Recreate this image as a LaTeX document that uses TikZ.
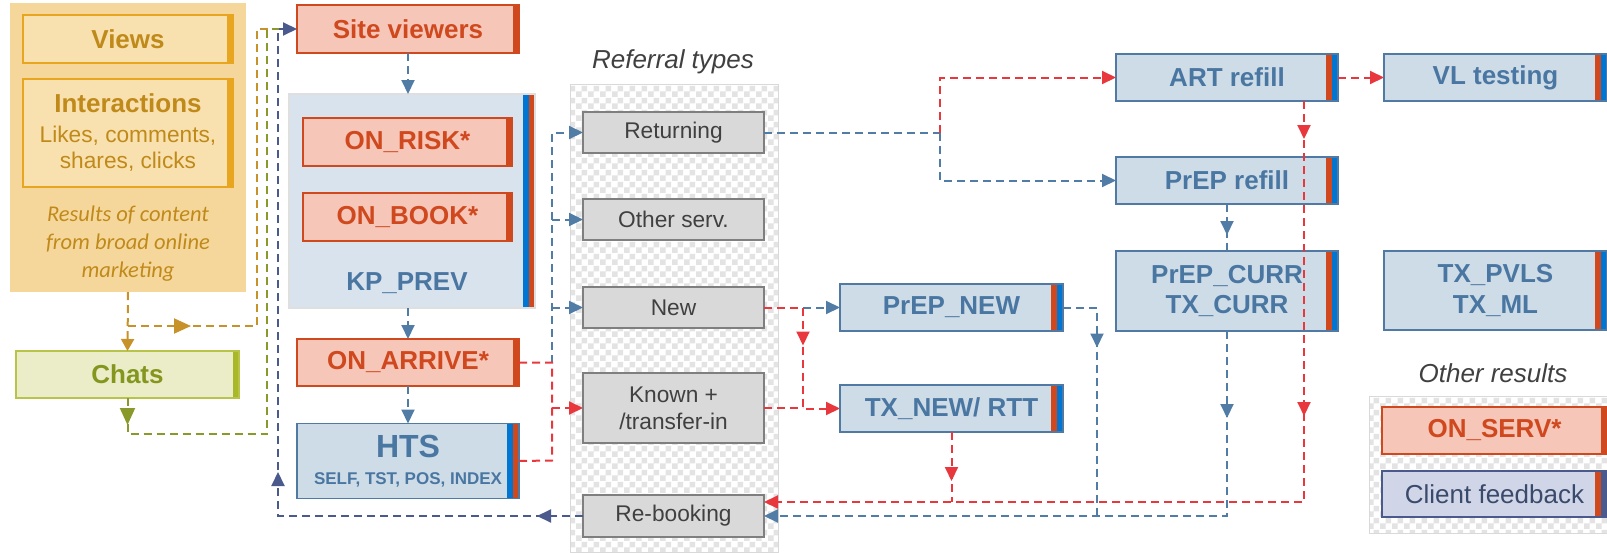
\documentclass[tikz,border=0pt]{standalone}
\usepackage{fontspec}
\setmainfont{Liberation Sans}
\newfontfamily\notefont{Carlito}
\usetikzlibrary{arrows.meta,decorations.markings,patterns,calc}

% two-tone checker fill used behind grouped boxes
\pgfdeclarepatternformonly{checks}{\pgfpointorigin}{\pgfpoint{12pt}{12pt}}{\pgfpoint{12pt}{12pt}}{%
  \pgfpathrectangle{\pgfpointorigin}{\pgfpoint{6pt}{6pt}}%
  \pgfpathrectangle{\pgfpoint{6pt}{6pt}}{\pgfpoint{6pt}{6pt}}%
  \pgfusepath{fill}}

\definecolor{txtblue}{RGB}{74,118,162}
\definecolor{boxblue}{RGB}{206,220,232}
\definecolor{edgeblue}{RGB}{80,122,164}
\definecolor{barblue}{RGB}{0,118,210}
\definecolor{barred}{RGB}{208,72,30}
\definecolor{boxred}{RGB}{246,198,184}
\definecolor{txtred}{RGB}{208,72,30}
\definecolor{kpfill}{RGB}{216,227,238}
\definecolor{grayfill}{RGB}{217,217,217}
\definecolor{grayedge}{RGB}{127,127,127}
\definecolor{graytxt}{RGB}{64,64,64}
\definecolor{mktfill}{RGB}{245,215,155}
\definecolor{mktinner}{RGB}{248,225,175}
\definecolor{mktedge}{RGB}{232,165,32}
\definecolor{mkttxt}{RGB}{192,138,26}
\definecolor{chatfill}{RGB}{234,237,200}
\definecolor{chatedge}{RGB}{184,195,74}
\definecolor{chatbar}{RGB}{168,184,40}
\definecolor{chattxt}{RGB}{132,150,30}
\definecolor{lnred}{RGB}{232,56,61}
\definecolor{lnblue}{RGB}{80,124,166}
\definecolor{lnslate}{RGB}{74,90,140}
\definecolor{lnorange}{RGB}{200,146,42}
\definecolor{lngreen}{RGB}{138,154,42}
\definecolor{fbfill}{RGB}{208,214,232}
\definecolor{fbtxt}{RGB}{58,74,106}

\tikzset{
  basebox/.style={draw, line width=1.5pt, inner sep=0pt, outer sep=0pt, align=center},
  onebar/.style={path picture={\fill[#1] ([xshift=-6pt]path picture bounding box.north east) rectangle (path picture bounding box.south east);}},
  twobars/.style 2 args={path picture={
      \fill[#1] ([xshift=-12pt]path picture bounding box.north east) rectangle ([xshift=-6pt]path picture bounding box.south east);
      \fill[#2] ([xshift=-6pt]path picture bounding box.north east) rectangle (path picture bounding box.south east);}},
  boldfont/.style={font=\bfseries\fontsize{26}{30}\selectfont},
  redbox/.style={basebox, fill=boxred, draw=txtred, text=txtred, boldfont, onebar=barred},
  bluebox/.style={basebox, fill=boxblue, draw=edgeblue, text=txtblue, boldfont, twobars={barred}{barblue}},
  greybox/.style={basebox, fill=grayfill, draw=grayedge, text=graytxt, font=\fontsize{22.7}{27}\selectfont},
  mktbox/.style={basebox, fill=mktinner, draw=mktedge, text=mkttxt, onebar=mktedge},
  checkarea/.style={draw=gray!30, line width=1pt, preaction={fill=white}, pattern=checks, pattern color=gray!22, inner sep=0pt, outer sep=0pt},
  heading/.style={text=graytxt, font=\itshape\fontsize{26}{30}\selectfont},
  flow/.style={line width=2pt, dash pattern=on 8pt off 5pt},
  endtip/.style={-{Triangle[length=14pt,width=13pt]}},
  midtip/.style={postaction={decorate,decoration={markings,mark=at position #1 with {\arrow{Triangle[length=14pt,width=13pt]}}}}},
  bigtip/.style={postaction={decorate,decoration={markings,mark=at position #1 with {\arrow{Triangle[length=17pt,width=15pt]}}}}},
}

\begin{document}
\begin{tikzpicture}[x=1pt,y=-1pt]
\fill[white] (0,0) rectangle (1607,552);
\useasboundingbox (0,0) rectangle (1607,552);

% ---------- marketing block ----------
\node[fill=mktfill, inner sep=0pt, minimum width=236pt, minimum height=289pt] (mkt) at (128,147.5) {};
\node[mktbox, minimum width=210pt, minimum height=48pt, boldfont] (views) at (128,39) {Views};
\node[mktbox, minimum width=210pt, minimum height=108pt, font=\fontsize{22.7}{26}\selectfont] (inter) at (128,133)
  {{\bfseries\fontsize{26}{26}\selectfont Interactions}\\[4pt]Likes, comments,\\shares, clicks};
\node[text=mkttxt, align=center, font=\notefont\itshape\fontsize{22.5}{28}\selectfont] (mktnote) at (128,244)
  {Results of content\\from broad online\\marketing};

\node[basebox, fill=chatfill, draw=chatedge, text=chattxt, boldfont, onebar=chatbar,
      minimum width=223pt, minimum height=47pt] (chats) at (127.5,374.5) {Chats};

% ---------- reach column ----------
\node[redbox, minimum width=222pt, minimum height=48pt] (sv) at (408,29) {Site viewers};
\node[basebox, fill=kpfill, draw=gray!25, twobars={barblue}{barred}, minimum width=246pt, minimum height=214pt] (kp) at (412,201) {};
\node[redbox, minimum width=209pt, minimum height=48pt] (risk) at (407.5,142) {ON\_RISK*};
\node[redbox, minimum width=209pt, minimum height=48pt] (book) at (407.5,217) {ON\_BOOK*};
\node[text=txtblue, boldfont] (kplabel) at (407,283) {KP\_PREV};
\node[redbox, minimum width=222pt, minimum height=47pt] (arr) at (408,362.5) {ON\_ARRIVE*};
\node[basebox, fill=boxblue, draw=edgeblue, text=txtblue, twobars={barblue}{barred},
      font=\bfseries\fontsize{32}{32}\selectfont, minimum width=222pt, minimum height=75pt] (hts) at (408,461)
  {HTS\\[-5pt]{\fontsize{17}{17}\selectfont SELF, TST, POS, INDEX}};

% ---------- referral types ----------
\node[heading] (reftitle) at (673,62) {Referral types};
\node[checkarea, minimum width=208pt, minimum height=468pt] (refcol) at (674,318) {};
\node[greybox, minimum width=181pt, minimum height=41pt] (ret) at (673.5,132.5) {Returning};
\node[greybox, minimum width=181pt, minimum height=41pt] (oth) at (673.5,219.5) {Other serv.};
\node[greybox, minimum width=181pt, minimum height=41pt] (new) at (673.5,307.5) {New};
\node[greybox, minimum width=181pt, minimum height=70pt] (kno) at (673.5,408) {Known +\\/transfer-in};
\node[greybox, minimum width=181pt, minimum height=42pt] (reb) at (673.5,516) {Re-booking};

% ---------- outcome boxes ----------
\node[bluebox, minimum width=223pt, minimum height=47pt] (pnew) at (951.5,307.5) {PrEP\_NEW};
\node[bluebox, minimum width=223pt, minimum height=47pt] (txn) at (951.5,408.5) {TX\_NEW/ RTT};
\node[bluebox, minimum width=222pt, minimum height=47pt] (art) at (1227,77.5) {ART refill};
\node[bluebox, minimum width=222pt, minimum height=47pt] (pref) at (1227,180.5) {PrEP refill};
\node[bluebox, minimum width=222pt, minimum height=80pt] (curr) at (1227,291) {PrEP\_CURR\\TX\_CURR};
\node[bluebox, minimum width=223pt, minimum height=47pt] (vl) at (1495.5,77.5) {VL testing};
\node[bluebox, minimum width=223pt, minimum height=79pt, font=\bfseries\fontsize{26}{31}\selectfont] (pvls) at (1495.5,290.5) {TX\_PVLS\\TX\_ML};

% ---------- other results ----------
\node[heading] (othtitle) at (1493,373) {Other results};
\node[checkarea, minimum width=238pt, minimum height=137pt] (othcol) at (1488,464.5) {};
\node[redbox, minimum width=225pt, minimum height=47pt] (serv) at (1494.5,430.5) {ON\_SERV*};
\node[basebox, fill=fbfill, draw=lnslate, text=fbtxt, twobars={barred}{lnslate}, font=\fontsize{26}{30}\selectfont,
      minimum width=225pt, minimum height=46pt] (fb) at (1494.5,494) {Client feedback};

% ---------- routing points ----------
\coordinate (obr) at (128,326);
\coordinate (ox) at (257,326);
\coordinate (gy) at (127.5,434);
\coordinate (gx) at (267,434);
\coordinate (sx) at (278,516);
\coordinate (ja) at (552,362.5);
\coordinate (jk) at (552,408);
\coordinate (jh) at (552,460.5);
\coordinate (jr) at (940,132.5);
\coordinate (jn) at (803,307.5);
\coordinate (ad) at ($(art.south east)+(-34,0)$);
\coordinate (ab) at (1304,502);
\coordinate (cb) at (1227,516);
\coordinate (pn1) at (1097,307.5);
\coordinate (pn2) at (1097,516);

% ---------- connectors into the site ----------
\draw[flow, lnorange, -{Triangle[length=12pt,width=13pt]}] (mkt.south) -- (chats.north);
\draw[flow, lnorange, bigtip=63pt] (obr) -- (ox) |- (sv.west);
\draw[flow, lngreen, bigtip=27pt] (chats.south) -- (gy) -- (gx) |- (sv.west);
\draw[flow, lnslate, endtip, midtip=46pt, midtip=349pt] (reb.west) -- (sx) |- (sv.west);

\draw[flow, lnblue, endtip] (sv.south) -- (sv.south |- kp.north);
\draw[flow, lnblue, endtip] (arr.north |- kp.south) -- (arr.north);
\draw[flow, lnblue, endtip] (arr.south) -- (hts.north);

% ---------- into the referral types ----------
\draw[flow, lnblue, endtip] (ja) |- (ret.west);
\draw[flow, lnblue, endtip] (ja |- oth.west) -- (oth.west);
\draw[flow, lnblue, endtip] (ja |- new.west) -- (new.west);
\draw[flow, lnred] (arr.east) -- (ja) -- (jh) -- (hts.east);
\draw[flow, lnred, endtip] (jk) -- (kno.west);

% ---------- out of the referral types ----------
\draw[flow, lnblue] (ret.east) -- (jr);
\draw[flow, lnred, endtip] (jr) |- (art.west);
\draw[flow, lnblue, endtip] (jr) |- (pref.west);
\draw[flow, lnred] (new.east) -- (jn);
\draw[flow, lnblue, endtip] (jn) -- (pnew.west);
\draw[flow, lnred, endtip, midtip=38pt] (jn) |- (txn.west);
\draw[flow, lnred] (kno.east) -- (jn |- kno.east);

% ---------- outcome flows ----------
\draw[flow, lnred, endtip] (art.east) -- (vl.west);
\draw[flow, lnblue, midtip=31pt] (pref.south) -- (curr.north);
\draw[flow, lnred, midtip=49pt] (txn.south) -- (txn.south |- ab);
\draw[flow, lnblue, midtip=74pt] (pnew.east) -- (pn1) -- (pn2);
\draw[flow, lnblue, endtip, midtip=87pt] (curr.south) -- (cb) -- (reb.east |- cb);
\draw[flow, lnred, endtip, midtip=38pt, midtip=315pt] (ad) -- (ab) -- (reb.east |- ab);
\end{tikzpicture}
\end{document}
